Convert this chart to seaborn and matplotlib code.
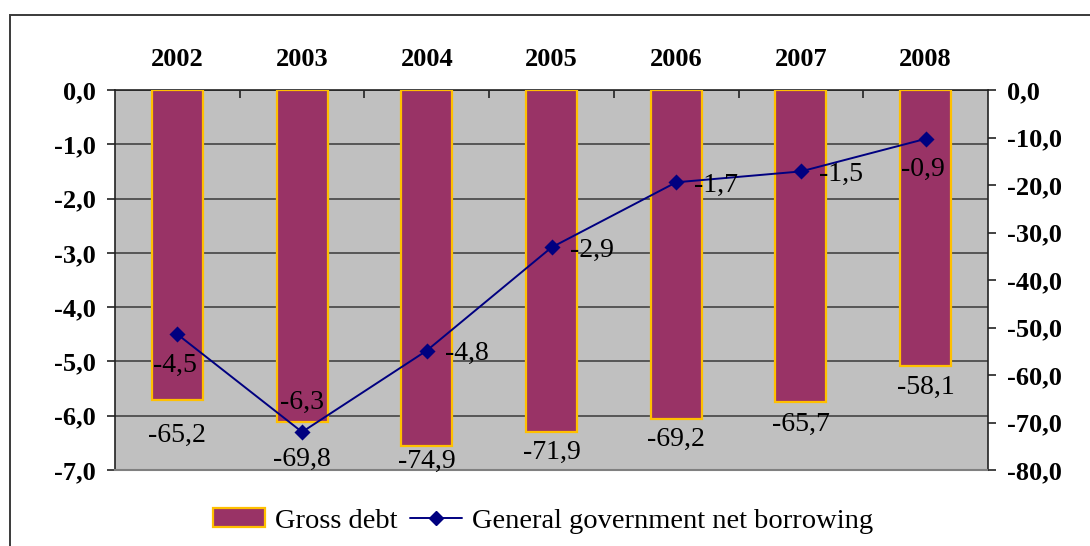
import matplotlib
matplotlib.use("Agg")
import matplotlib.pyplot as plt
import seaborn as sns
import pandas as pd
from matplotlib.patches import Patch, Rectangle
from matplotlib.lines import Line2D
from matplotlib.ticker import FixedLocator, FuncFormatter

years = ["2002", "2003", "2004", "2005", "2006", "2007", "2008"]
gross_debt = [-65.2, -69.8, -74.9, -71.9, -69.2, -65.7, -58.1]
net_borrowing = [-4.5, -6.3, -4.8, -2.9, -1.7, -1.5, -0.9]
left_ticks = [0, -1, -2, -3, -4, -5, -6, -7]
right_ticks = [0, -10, -20, -30, -40, -50, -60, -70, -80]

# label placement (style only)
line_label_pos = ["below", "above", "right", "right", "right", "right", "below"]
bar_label_gap = [17, 18, 2, 6, 6, 7, 6.5]  # points below bar end

sns.set_style("white")
plt.rcParams["font.family"] = ["Liberation Serif", "DejaVu Serif"]
plt.rcParams["text.color"] = "black"
plt.rcParams["xtick.color"] = "black"
plt.rcParams["ytick.color"] = "black"
plt.rcParams["xtick.labelcolor"] = "black"
plt.rcParams["ytick.labelcolor"] = "black"


def fmt(v):
    return f"{v:.1f}".replace(".", ",")


df = pd.DataFrame({"year": years, "debt": gross_debt, "nb": net_borrowing})

fig = plt.figure(figsize=(10.9, 5.46), dpi=100)
fig.patch.set_facecolor("white")

# outer chart frame (top and left edges visible)
fig.add_artist(Rectangle((10 / 1090, -0.1), 1.2, 1 - 15 / 546 + 0.1, transform=fig.transFigure,
                         fill=False, edgecolor="#3a3a3a", linewidth=1.4))

TICK_FS = 19
ax = fig.add_axes([115 / 1090, 1 - 470 / 546, 873 / 1090, 380 / 546])
ax.set_facecolor("#C0C0C0")
ax.set_ylim(-7, 0)
ax.set_xlim(-0.5, 6.5)
ax.yaxis.set_major_locator(FixedLocator(left_ticks))
ax.yaxis.set_major_formatter(FuncFormatter(lambda v, p: fmt(v)))
ax.grid(axis="y", color="#444444", linewidth=1.2)
ax.set_axisbelow(True)
ax.xaxis.set_ticks_position("top")
ax.set_xticks(range(len(years)))
ax.set_xticklabels(years)
ax.set_xticks([i + 0.5 for i in range(len(years) - 1)], minor=True)
ax.tick_params(axis="x", which="major", length=0, pad=14, labelsize=TICK_FS, labelcolor="black")
ax.tick_params(axis="x", which="minor", length=6, direction="in", color="#222222", width=1.2)
ax.tick_params(axis="y", length=6, width=1.2, color="#222222", pad=8, labelsize=TICK_FS,
               left=True, labelcolor="black")
for lab in ax.get_xticklabels() + ax.get_yticklabels():
    lab.set_fontweight("bold")
for s in ["left", "top", "right"]:
    ax.spines[s].set_color("#222222")
    ax.spines[s].set_linewidth(1.2)
ax.spines["bottom"].set_color("#808080")
ax.spines["bottom"].set_linewidth(1.5)
ax.set_xlabel("")
ax.set_ylabel("")

# bars on the right-hand scale
axb = ax.twinx()
sns.barplot(data=df, x="year", y="debt", ax=axb, color="#993366", width=0.41,
            edgecolor="#FFC000", linewidth=1.6, saturation=1)
axb.set_ylim(-80, 0)
axb.set_xlim(-0.5, 6.5)
axb.yaxis.set_major_locator(FixedLocator(right_ticks))
axb.yaxis.set_major_formatter(FuncFormatter(lambda v, p: fmt(v)))
axb.tick_params(axis="y", length=6, width=1.2, color="#222222", pad=8, labelsize=TICK_FS,
                right=True, labelcolor="black")
for lab in axb.get_yticklabels():
    lab.set_fontweight("bold")
axb.set_xlabel("")
axb.set_ylabel("")
for s in axb.spines.values():
    s.set_visible(False)
for i, (v, g) in enumerate(zip(gross_debt, bar_label_gap)):
    axb.annotate(fmt(v), (i, v), xytext=(0, -g), textcoords="offset points",
                 ha="center", va="top", fontsize=20, color="black")

# line on the left-hand scale
axl = ax.twinx()
sns.pointplot(data=df, x="year", y="nb", ax=axl, color="#000080", markers="D",
              markersize=7, linewidth=1.4)
axl.set_ylim(-7, 0)
axl.set_xlim(-0.5, 6.5)
axl.set_yticks([])
axl.set_xlabel("")
axl.set_ylabel("")
axl.tick_params(axis="x", length=0, labeltop=False, labelbottom=False)
for s in axl.spines.values():
    s.set_visible(False)
for i, (v, pos) in enumerate(zip(net_borrowing, line_label_pos)):
    if pos == "right":
        axl.annotate(fmt(v), (i, v), xytext=(13, -7), textcoords="offset points",
                     ha="left", va="baseline", fontsize=20, color="black")
    elif pos == "below":
        axl.annotate(fmt(v), (i, v), xytext=(-2, -27), textcoords="offset points",
                     ha="center", va="baseline", fontsize=20, color="black")
    else:
        axl.annotate(fmt(v), (i, v), xytext=(0, 16.5), textcoords="offset points",
                     ha="center", va="baseline", fontsize=20, color="black")

handles = [Patch(facecolor="#993366", edgecolor="#FFC000", linewidth=1.6),
           Line2D([0], [0], color="#000080", marker="D", markersize=7, linewidth=1.4)]
leg = fig.legend(handles, ["Gross debt", "General government net borrowing"], loc="center",
                 bbox_to_anchor=(543 / 1090, 1 - 521 / 546), ncol=2, frameon=False, fontsize=20.5,
                 handlelength=1.85, handletextpad=0.35, columnspacing=0.42, handleheight=0.6)
for t in leg.get_texts():
    t.set_color("black")

fig.savefig("out.png", dpi=100)
